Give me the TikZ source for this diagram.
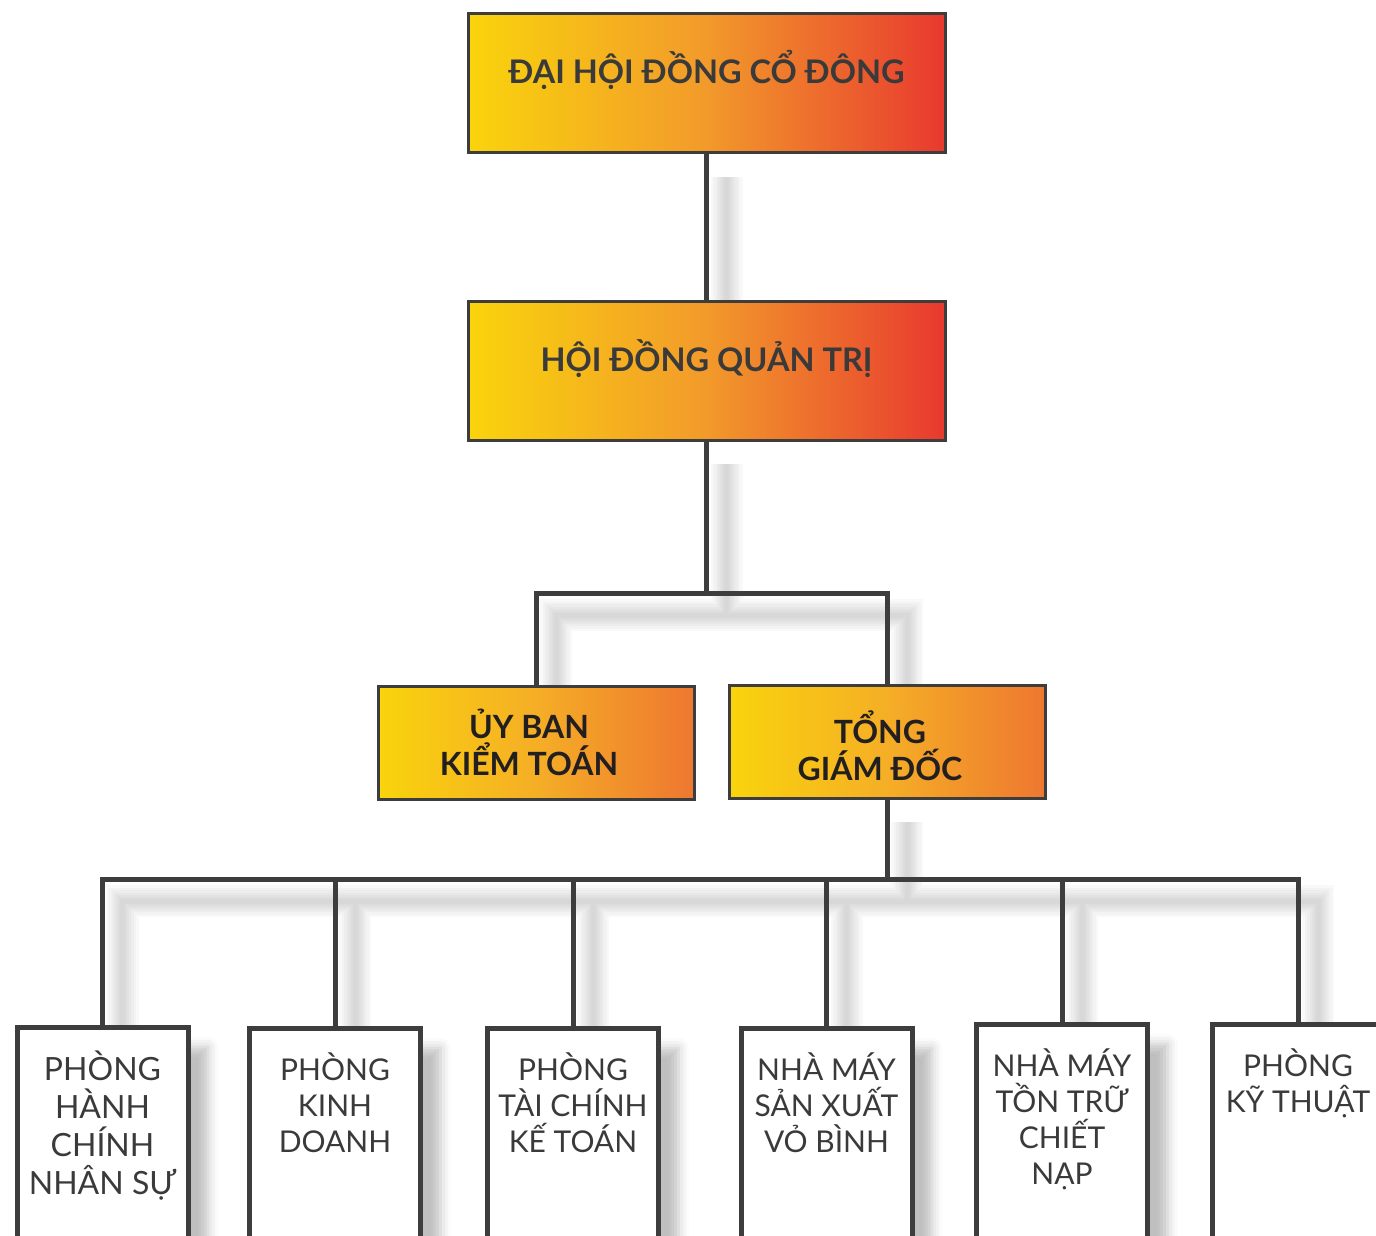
\documentclass[tikz,border=0pt]{standalone}
\usepackage{fontspec}
\setmainfont{Lato}
\usetikzlibrary{positioning,shadows.blur,backgrounds}
\definecolor{linegray}{HTML}{3D3D3D}
\definecolor{textgray}{HTML}{3A3A3A}
\definecolor{inkgray}{HTML}{231F20}
\definecolor{gold}{HTML}{F9D40C}
\definecolor{amber}{HTML}{F29A2B}
\definecolor{flame}{HTML}{E8392F}
\definecolor{honey}{HTML}{F5AE26}
\definecolor{tangerine}{HTML}{EE7730}
\begin{document}
\begin{tikzpicture}[x=1pt,y=-1pt,
    headbox/.style={draw=linegray,line width=3pt,left color=gold,right color=flame,middle color=amber,minimum width=477pt,minimum height=139pt},
    headtext/.style={anchor=base,text=textgray,font=\fontsize{32.5}{38}\selectfont\bfseries},
    subbox/.style={draw=linegray,line width=3pt,left color=gold,right color=tangerine,middle color=honey,minimum width=316pt,minimum height=113pt},
    subtext/.style={align=center,text=inkgray,font=\fontsize{32}{37}\selectfont\bfseries},
    deptbox/.style={draw=linegray,line width=5pt,fill=white,anchor=north,minimum width=171pt,minimum height=260pt,
      blur shadow={shadow xshift=20pt,shadow yshift=-20pt,shadow blur radius=10pt,shadow opacity=25}},
    depttext/.style={align=center,text=textgray,font=\fontsize{30}{36}\selectfont}]
  \useasboundingbox (0,0) rectangle (1376,1236);
  \clip (0,0) rectangle (1376,1236);

  \node [headbox] (dhd) at (706.5,83.5) {};
  \node [headtext] (dhdtext) at (dhd.center) {ĐẠI HỘI ĐỒNG CỔ ĐÔNG};
  \node [headbox] (hdqt) at (706.5,371) {};
  \node [headtext] (hdqttext) at (hdqt.center) {HỘI ĐỒNG QUẢN TRỊ};

  \node [subbox] (ubkt) at (536,742.5) {};
  \node [subtext,xshift=-7pt] (ubkttext) at (ubkt.center) {ỦY BAN\\KIỂM TOÁN};
  \node [subbox] (tgd) at (887,742) {};
  \node [subtext,xshift=-7pt,yshift=-4pt] (tgdtext) at (tgd.center) {TỔNG\\GIÁM ĐỐC};

  \coordinate (split) at (706.5,593);
  \coordinate (bus) at (887,879);

  \node [deptbox] (hcns) at (102.5,1024.5) {};
  \node [depttext,font=\fontsize{32}{38}\selectfont,below=23pt of hcns.north] (hcnstext) {PHÒNG\\HÀNH\\CHÍNH\\NHÂN SỰ};
  \node [deptbox] (kd) at (335,1025.5) {};
  \node [depttext,below=24pt of kd.north] (kdtext) {PHÒNG\\KINH\\DOANH};
  \node [deptbox] (tckt) at (573,1025.5) {};
  \node [depttext,below=24pt of tckt.north] (tckttext) {PHÒNG\\TÀI CHÍNH\\KẾ TOÁN};
  \node [deptbox] (nmsx) at (826.5,1025.5) {};
  \node [depttext,below=24pt of nmsx.north] (nmsxtext) {NHÀ MÁY\\SẢN XUẤT\\VỎ BÌNH};
  \node [deptbox] (nmtt) at (1062,1021.5) {};
  \node [depttext,below=24pt of nmtt.north] (nmtttext) {NHÀ MÁY\\TỒN TRỮ\\CHIẾT\\NẠP};
  \node [deptbox] (kt) at (1298,1021.5) {};
  \node [depttext,below=24pt of kt.north] (kttext) {PHÒNG\\KỸ THUẬT};

  \begin{scope}[on background layer]
    \foreach \w/\c/\o/\d in {32/black/0.022/20,27/black/0.022/20,22/black/0.022/20,17/black/0.022/20,13/black/0.022/20,9/black/0.022/20,5/black/0.022/20,5/linegray/1/0}
      \draw [line width=\w pt,draw=\c,opacity=\o,transform canvas={xshift=\d pt,yshift=-1.1*\d pt}]
        (dhd.south) -- (hdqt.north)
        (hdqt.south) -- (split) (ubkt.north) |- (split) -| (tgd.north)
        (tgd.south) -- (bus)
        (hcns.north) |- (bus) (kd.north) |- (bus) (tckt.north) |- (bus)
        (nmsx.north) |- (bus) (nmtt.north) |- (bus) (kt.north) |- (bus);
  \end{scope}
\end{tikzpicture}
\end{document}
